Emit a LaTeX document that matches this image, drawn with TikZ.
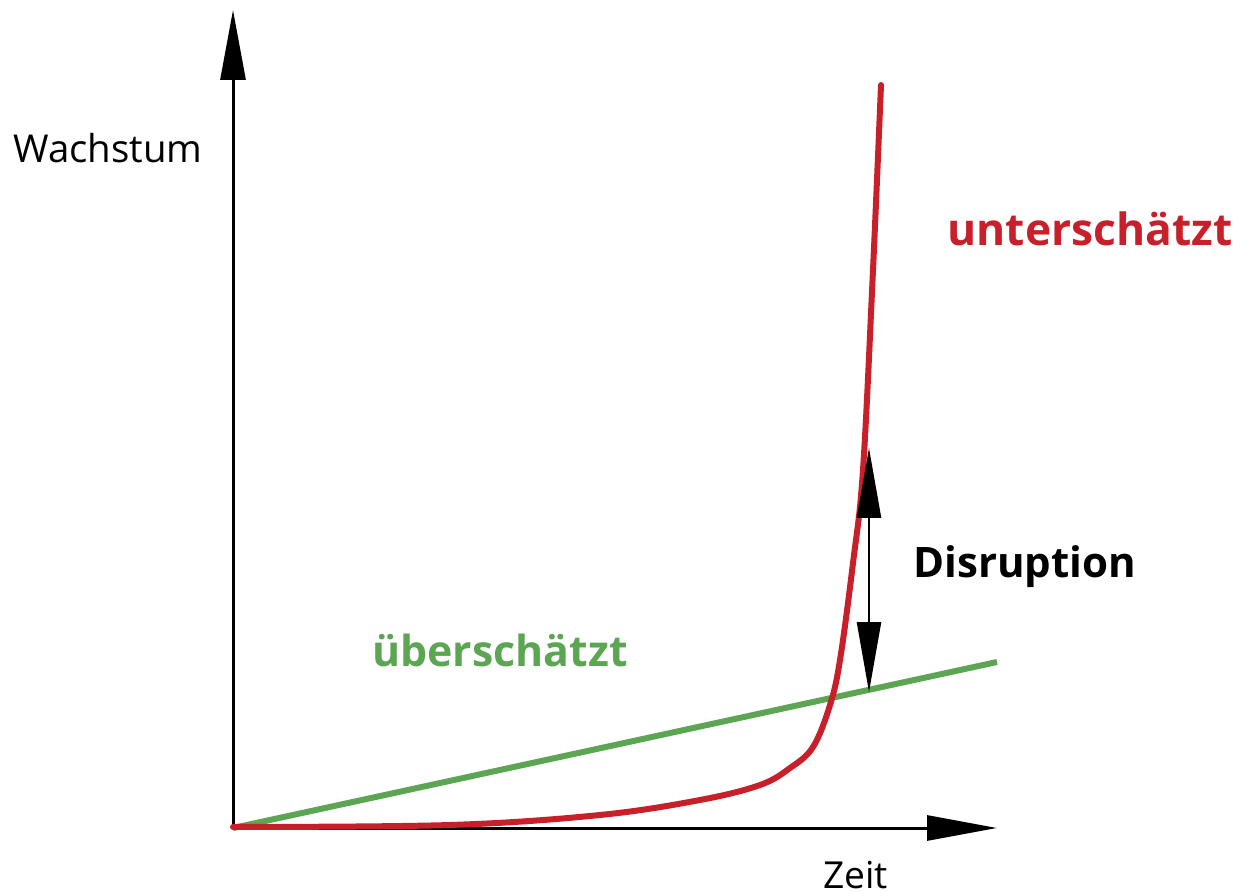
\documentclass[tikz,border=0pt]{standalone}
\usepackage{fontspec}
\setmainfont{Open Sans}
\usetikzlibrary{arrows.meta}
\definecolor{cred}{HTML}{C8202A}
\definecolor{cgreen}{HTML}{5BA553}
\tikzset{
  axisline/.style={line width=1.5pt, -{Triangle[length=35pt,width=12.5pt]}},
  redcurve/.style={cred, line width=3pt, line cap=round},
  greenline/.style={cgreen, line width=3pt},
  disarrow/.style={line width=1.2pt, {Triangle[length=35pt,width=12pt]}-{Triangle[length=35pt,width=12pt]}},
  lbl/.style={anchor=base west, inner sep=0pt}
}
\begin{document}
\begin{tikzpicture}[x=0.5pt,y=-0.5pt]
\useasboundingbox (0,0) rectangle (1244,893);
\coordinate (O) at (233,828);
\coordinate (ytip) at (233,10);
\coordinate (xtip) at (997,828);
\coordinate (gend) at (997,662);
\coordinate (dtop) at (869,448);
\coordinate (dbot) at (869,692);
\draw[axisline] (O) -- (ytip);
\draw[axisline] (O) -- (xtip);
\draw[greenline] (O) -- (gend);
\draw[redcurve] plot[smooth, tension=0.6] coordinates {(233,827) (450,825) (600,815) (700,800) (760,785) (790,768) (813,747) (830,705) (840,660) (853,563) (863,470) (873,270) (881,85)};
\draw[disarrow] (dtop) -- (dbot);
\node[lbl, font=\fontsize{19.2pt}{23pt}\selectfont] (wach) at (13,163) {Wachstum};
\node[lbl, font=\fontsize{18.6pt}{22pt}\selectfont] (zeit) at (823,888) {Zeit};
\node[lbl, text=cred, font=\bfseries\fontsize{22.2pt}{26pt}\selectfont] (unter) at (947,246) {unterschätzt};
\node[lbl, text=cgreen, font=\bfseries\fontsize{21.4pt}{26pt}\selectfont] (ueber) at (372,667) {überschätzt};
\node[lbl, font=\bfseries\fontsize{21pt}{25pt}\selectfont] (disr) at (913,577) {Disruption};
\end{tikzpicture}
\end{document}
